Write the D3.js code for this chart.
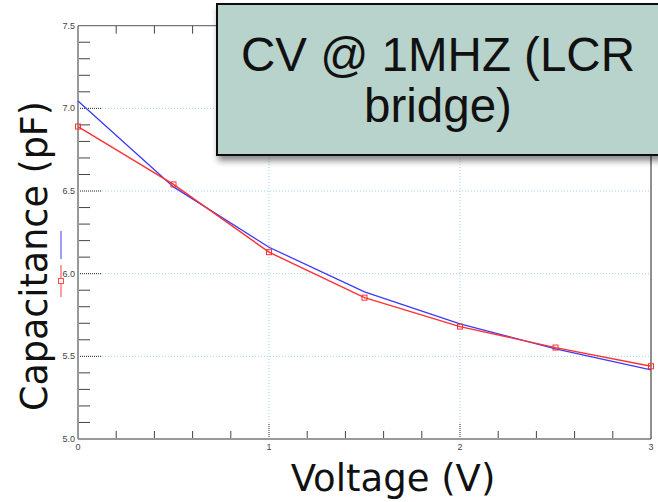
<!DOCTYPE html>
<html>
<head>
<meta charset="utf-8">
<script src="https://cdn.jsdelivr.net/npm/d3@7"></script>
<style>
  body { margin: 0; background: #fff; }
  svg { display: block; }
</style>
</head>
<body>
<div id="main_chart"></div>
<script>

// voltages (V)
var voltage = [0, 0.5, 1, 1.5, 2, 2.5, 3];
// measured capacitance, red with square markers (pF)
var capMeasured = [6.89, 6.54, 6.13, 5.855, 5.68, 5.553, 5.44];
// second curve, blue (pF)
var capModel = [7.045, 6.525, 6.16, 5.89, 5.697, 5.545, 5.418];

var xTickLabels = ["0", "1", "2", "3"];
var yTickLabels = ["5.0", "5.5", "6.0", "6.5", "7.0", "7.5"];
var titleLines = ["CV @ 1MHZ (LCR", "bridge)"];

var width = 658, height = 502;

var x = d3.scaleLinear().domain([0, 3]).range([78, 651]);
var y = d3.scaleLinear().domain([5, 7.5]).range([439, 25.7]);

var svg = d3.select("#main_chart").append("svg")
    .attr("width", width)
    .attr("height", height);

var defs = svg.append("defs");
var shadow = defs.append("filter").attr("id", "shadow")
    .attr("x", "-10%").attr("y", "-10%").attr("width", "130%").attr("height", "140%");
shadow.append("feDropShadow")
    .attr("dx", 2).attr("dy", 5).attr("stdDeviation", 3)
    .attr("flood-color", "#000").attr("flood-opacity", 0.45);

// grid (light blue dotted)
var grid = svg.append("g");
[5.5, 6, 6.5, 7].forEach(function(v) {
    grid.append("line")
        .attr("x1", x(0) + 24).attr("x2", x(3))
        .attr("y1", y(v)).attr("y2", y(v))
        .attr("stroke", "#9fd3ef").attr("stroke-width", 1)
        .attr("stroke-dasharray", "1,2");
    grid.append("line")
        .attr("x1", x(0)).attr("x2", x(0) + 24)
        .attr("y1", y(v)).attr("y2", y(v))
        .attr("stroke", "#222").attr("stroke-width", 1)
        .attr("stroke-dasharray", "1,1");
});
[1, 2].forEach(function(v) {
    grid.append("line")
        .attr("x1", x(v)).attr("x2", x(v))
        .attr("y1", y(5) - 16).attr("y2", y(7.5))
        .attr("stroke", "#9fd3ef").attr("stroke-width", 1)
        .attr("stroke-dasharray", "1,2");
    grid.append("line")
        .attr("x1", x(v)).attr("x2", x(v))
        .attr("y1", y(5)).attr("y2", y(5) - 16)
        .attr("stroke", "#222").attr("stroke-width", 1)
        .attr("stroke-dasharray", "1,1");
});

// minor ticks
var xMinor = x.ticks(15).filter(function(d) { return d % 1 !== 0; });
var yMinor = y.ticks(25).filter(function(d) { return Math.round(d * 10) % 5 !== 0; });

svg.append("g").selectAll("line").data(xMinor).enter().append("line")
    .attr("x1", function(d) { return x(d); }).attr("x2", function(d) { return x(d); })
    .attr("y1", y(5)).attr("y2", y(5) - 8)
    .attr("stroke", "#444").attr("stroke-width", 1);
svg.append("g").selectAll("line").data(xMinor).enter().append("line")
    .attr("x1", function(d) { return x(d); }).attr("x2", function(d) { return x(d); })
    .attr("y1", y(7.5)).attr("y2", y(7.5) + 8)
    .attr("stroke", "#444").attr("stroke-width", 1);
svg.append("g").selectAll("line").data(yMinor).enter().append("line")
    .attr("x1", x(0)).attr("x2", x(0) + 12)
    .attr("y1", function(d) { return y(d); }).attr("y2", function(d) { return y(d); })
    .attr("stroke", "#444").attr("stroke-width", 1);

// frame
svg.append("line").attr("x1", x(0)).attr("x2", x(3)).attr("y1", y(5)).attr("y2", y(5))
    .attr("stroke", "#999").attr("stroke-width", 2);
svg.append("line").attr("x1", x(0)).attr("x2", x(0)).attr("y1", y(5)).attr("y2", y(7.5))
    .attr("stroke", "#999").attr("stroke-width", 2);
svg.append("line").attr("x1", x(0)).attr("x2", x(3)).attr("y1", y(7.5)).attr("y2", y(7.5))
    .attr("stroke", "#555").attr("stroke-width", 1);
svg.append("line").attr("x1", x(3)).attr("x2", x(3)).attr("y1", y(5)).attr("y2", y(7.5))
    .attr("stroke", "#444").attr("stroke-width", 1.2);

// tick labels
svg.append("g").selectAll("text").data(yTickLabels).enter().append("text")
    .attr("x", x(0) - 3)
    .attr("y", function(d) { return y(+d) + 3; })
    .attr("text-anchor", "end")
    .attr("font-family", "Liberation Sans, Arial, sans-serif")
    .attr("font-size", 9)
    .attr("fill", "#444")
    .text(function(d) { return d; });
svg.append("g").selectAll("text").data(xTickLabels).enter().append("text")
    .attr("x", function(d) { return x(+d); })
    .attr("y", y(5) + 11)
    .attr("text-anchor", "middle")
    .attr("font-family", "Liberation Sans, Arial, sans-serif")
    .attr("font-size", 9)
    .attr("fill", "#444")
    .text(function(d) { return d; });

// series
var pts = function(vals) {
    return voltage.map(function(v, i) { return [v, vals[i]]; });
};
var line = d3.line()
    .x(function(d) { return x(d[0]); })
    .y(function(d) { return y(d[1]); });

svg.append("path")
    .datum(pts(capModel))
    .attr("fill", "none")
    .attr("stroke", "#3a3aff")
    .attr("stroke-width", 1.3)
    .attr("d", line);

svg.append("path")
    .datum(pts(capMeasured))
    .attr("fill", "none")
    .attr("stroke", "#ff3030")
    .attr("stroke-width", 1.4)
    .attr("d", line);

svg.append("g").selectAll("rect").data(pts(capMeasured)).enter().append("rect")
    .attr("x", function(d) { return x(d[0]) - 2.5; })
    .attr("y", function(d) { return y(d[1]) - 2.5; })
    .attr("width", 5).attr("height", 5)
    .attr("fill", "none")
    .attr("stroke", "#ff3030")
    .attr("stroke-width", 1);

// legend fragments in left margin
svg.append("line").attr("x1", 61).attr("x2", 61).attr("y1", 231).attr("y2", 259)
    .attr("stroke", "#6a6aff").attr("stroke-width", 1.3);
svg.append("line").attr("x1", 61).attr("x2", 61).attr("y1", 265).attr("y2", 297)
    .attr("stroke", "#ff6a6a").attr("stroke-width", 1.3);
svg.append("rect").attr("x", 58.5).attr("y", 278.5).attr("width", 5).attr("height", 5)
    .attr("fill", "#fff").attr("stroke", "#ff5050").attr("stroke-width", 1);

// axis titles
svg.append("text")
    .attr("x", 393).attr("y", 491)
    .attr("text-anchor", "middle")
    .attr("font-family", "DejaVu Sans, Verdana, sans-serif")
    .attr("font-size", 37)
    .attr("fill", "#111")
    .text("Voltage (V)");
svg.append("text")
    .attr("transform", "translate(47,256) rotate(-90)")
    .attr("text-anchor", "middle")
    .attr("font-family", "DejaVu Sans, Verdana, sans-serif")
    .attr("font-size", 36.5)
    .attr("fill", "#111")
    .text("Capacitance (pF)");

// title box
var box = svg.append("g");
box.append("rect")
    .attr("x", 217).attr("y", 4)
    .attr("width", 444).attr("height", 151)
    .attr("fill", "#b8d3cb")
    .attr("stroke", "#111")
    .attr("stroke-width", 2)
    .attr("filter", "url(#shadow)");
box.selectAll("text").data(titleLines).enter().append("text")
    .attr("x", 438)
    .attr("y", function(d, i) { return 71 + i * 51; })
    .attr("text-anchor", "middle")
    .attr("font-family", "Liberation Sans, Arial, sans-serif")
    .attr("font-size", 47.5)
    .attr("fill", "#111")
    .text(function(d) { return d; });

</script>
</body>
</html>
